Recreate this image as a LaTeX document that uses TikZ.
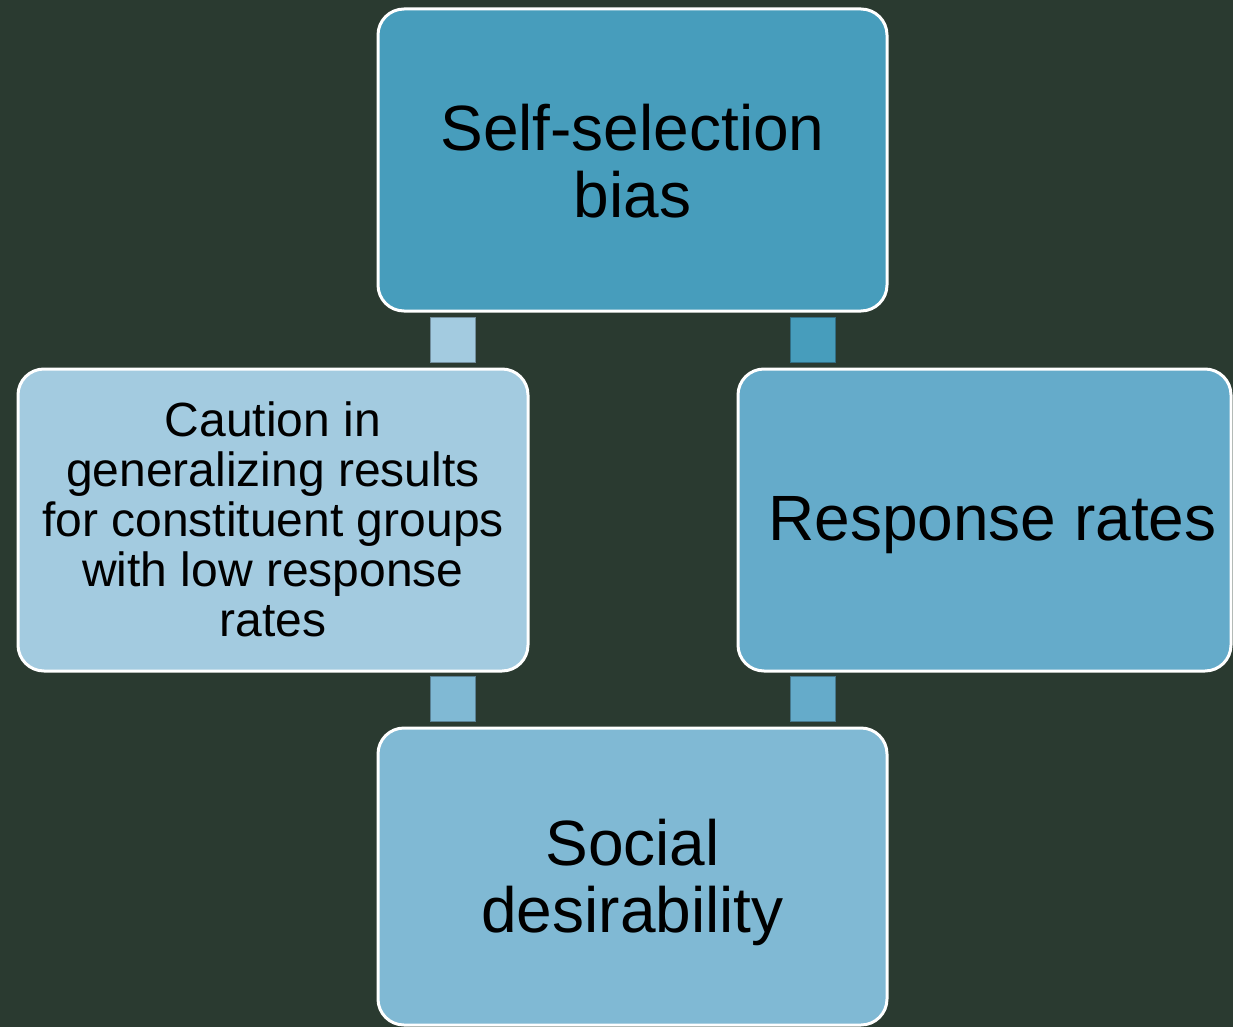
\documentclass[tikz,border=0pt]{standalone}
\usepackage{fontspec}
\setmainfont{Liberation Sans}
\definecolor{bgc}{HTML}{2A3A30}
\definecolor{ctop}{HTML}{479DBC}
\definecolor{cright}{HTML}{65ABCA}
\definecolor{cleft}{HTML}{A3CBE0}
\definecolor{cbot}{HTML}{80B9D4}
\tikzset{
  box/.style={draw=white, line width=3pt, rounded corners=26pt, inner sep=0pt},
  label/.style={align=center, text=black, inner sep=0pt},
  bigtxt/.style={font=\fontsize{64}{67}\selectfont},
  smalltxt/.style={font=\fontsize{48}{50}\selectfont},
  link/.style={minimum width=45pt, minimum height=45pt, inner sep=0pt, line width=1pt}
}
\begin{document}
\begin{tikzpicture}[x=1pt,y=-1pt]
\fill[bgc] (0,0) rectangle (1233,1027);
\useasboundingbox (0,0) rectangle (1233,1027);
\node[box, fill=ctop, minimum width=509pt, minimum height=302pt] (top) at (632.5,160) {};
\node[box, fill=cleft, minimum width=510pt, minimum height=302pt] (left) at (273,520) {};
\node[box, fill=cright, minimum width=493pt, minimum height=302pt] (right) at (984.5,520) {};
\node[box, fill=cbot, minimum width=509pt, minimum height=297pt] (bot) at (632.5,876.5) {};
\node[label, bigtxt] (ttop) at ([yshift=-1pt]top.center) {Self-selection\\bias};
\node[label, smalltxt] (tleft) at ([yshift=1pt]left.center) {Caution in\\generalizing results\\for constituent groups\\with low response\\rates};
\node[label, bigtxt] (tright) at ([xshift=8pt,yshift=-5pt]right.center) {Response rates};
\node[label, bigtxt] (tbot) at ([yshift=-6pt]bot.center) {Social\\desirability};
\node[link, fill=cleft, draw=cleft!70!black] (l1) at (453,340) {};
\node[link, fill=ctop, draw=ctop!70!black] (l2) at (812.5,340) {};
\node[link, fill=cbot, draw=cbot!70!black] (l3) at (453,699) {};
\node[link, fill=cright, draw=cright!70!black] (l4) at (812.5,699) {};
\end{tikzpicture}
\end{document}
